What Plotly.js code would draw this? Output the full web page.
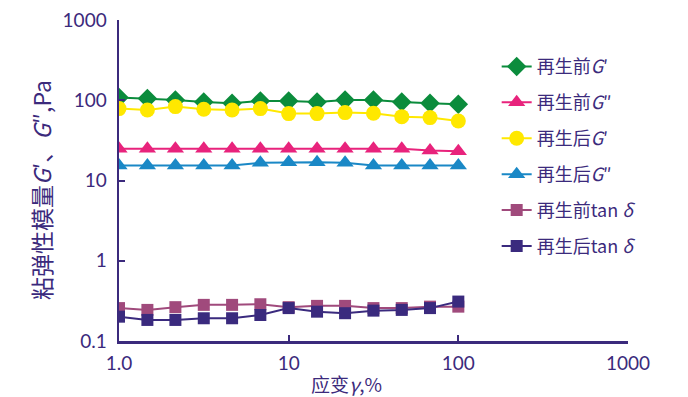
<!DOCTYPE html>
<html>
<head>
<meta charset="utf-8">
<script src="https://cdn.plot.ly/plotly-3.0.1.min.js"></script>
<style>html,body{margin:0;padding:0;background:#fff;}#chart{width:688px;height:397px;}</style>
</head>
<body>
<div id="chart"></div>
<script>
// strain, %
const strain = [1, 1.47, 2.15, 3.16, 4.64, 6.81, 10, 14.7, 21.5, 31.6, 46.4, 68.1, 100];
// series values, Pa / dimensionless
const beforeGp  = [108, 105, 101, 95, 92, 98, 98, 95, 101, 101, 95, 92, 89];
const beforeGpp = [24.9, 24.9, 24.9, 24.9, 24.9, 24.9, 24.9, 24.9, 24.9, 24.9, 24.9, 23.7, 23.2];
const afterGp   = [78.7, 75.7, 83.4, 77.2, 75.7, 78.7, 68.2, 68.2, 70.2, 68.8, 62.5, 60.8, 55.1];
const afterGpp  = [15.4, 15.4, 15.4, 15.4, 15.4, 16.6, 16.9, 16.9, 16.6, 15.4, 15.4, 15.4, 15.4];
const beforeTan = [0.257, 0.244, 0.264, 0.282, 0.282, 0.287, 0.264, 0.274, 0.274, 0.257, 0.257, 0.268, 0.268];
const afterTan  = [0.201, 0.183, 0.183, 0.192, 0.192, 0.211, 0.257, 0.232, 0.222, 0.239, 0.244, 0.257, 0.310];
// labels
const seriesNames = ['再生前<i>G</i>′', '再生前<i>G</i>″', '再生后<i>G</i>′', '再生后<i>G</i>″', '再生前tan <i>δ</i>', '再生后tan <i>δ</i>'];
const xTickVals = [1, 10, 100, 1000];
const xTickText = ['1.0', '10', '100', '1000'];
const yTickVals = [0.1, 1, 10, 100, 1000];
const yTickText = ['0.1', '1', '10', '100', '1000'];
const xTitle = '应变<i>γ</i>,%';
const yTitle = '粘弹性模量<i>G</i>′、<i>G</i>″,Pa';

const ink = '#3b2a7c';
const cjk = '"Noto Sans CJK SC", "Noto Sans", sans-serif';
const num = 'Lato, "Noto Sans", sans-serif';

const styles = [
  {color: '#0b8c3c', symbol: 'diamond', size: 15},
  {color: '#e8237c', symbol: 'triangle-up', size: 15},
  {color: '#ffe800', symbol: 'circle', size: 15},
  {color: '#1a88c6', symbol: 'triangle-up', size: 15},
  {color: '#a04a7c', symbol: 'square', size: 12},
  {color: '#3a2a7e', symbol: 'square', size: 12}
];
const series = [beforeGp, beforeGpp, afterGp, afterGpp, beforeTan, afterTan];

const data = series.map((ys, i) => ({
  type: 'scatter',
  mode: 'lines+markers',
  x: strain,
  y: ys,
  name: seriesNames[i],
  legendgroup: 'g' + i,
  line: {color: styles[i].color, width: 2},
  marker: {color: styles[i].color, symbol: styles[i].symbol, size: styles[i].size}
}));

const layout = {
  width: 688,
  height: 397,
  margin: {l: 119, r: 60, t: 20, b: 56},
  paper_bgcolor: '#ffffff',
  plot_bgcolor: 'rgba(0,0,0,0)',
  showlegend: true,
  legend: {
    x: 0.742, y: 0.912, xanchor: 'left', yanchor: 'top',
    bgcolor: 'rgba(0,0,0,0)',
    font: {family: cjk, size: 18, color: ink},
    tracegroupgap: 9.5,
    itemwidth: 30
  },
  xaxis: {
    type: 'log',
    range: [0, 3],
    tickvals: xTickVals,
    ticktext: xTickText,
    ticks: 'inside',
    ticklen: 6,
    tickwidth: 2,
    tickcolor: ink,
    showline: true,
    linecolor: ink,
    linewidth: 2.5,
    showgrid: false,
    zeroline: false,
    tickfont: {family: num, size: 19, color: ink},
    ticklabelstandoff: 4
  },
  yaxis: {
    type: 'log',
    range: [-1, 3],
    tickvals: yTickVals,
    ticktext: yTickText,
    ticks: 'inside',
    ticklen: 6,
    tickwidth: 2,
    tickcolor: ink,
    showline: true,
    linecolor: ink,
    linewidth: 2.5,
    showgrid: false,
    zeroline: false,
    tickfont: {family: num, size: 19, color: ink},
    ticklabelstandoff: 6
  },
  annotations: [{
    text: xTitle,
    xref: 'paper', yref: 'paper',
    x: (346 - 119) / 509, y: (341 - 383) / 321,
    xanchor: 'center', yanchor: 'middle',
    showarrow: false,
    font: {family: cjk, size: 19, color: ink}
  }, {
    text: yTitle,
    xref: 'paper', yref: 'paper',
    x: (41 - 119) / 509, y: (341 - 190) / 321,
    xanchor: 'center', yanchor: 'middle',
    textangle: -90,
    showarrow: false,
    font: {family: cjk, size: 23, color: ink}
  }]
};

Plotly.newPlot('chart', data, layout, {displayModeBar: false, staticPlot: true});
</script>
</body>
</html>
